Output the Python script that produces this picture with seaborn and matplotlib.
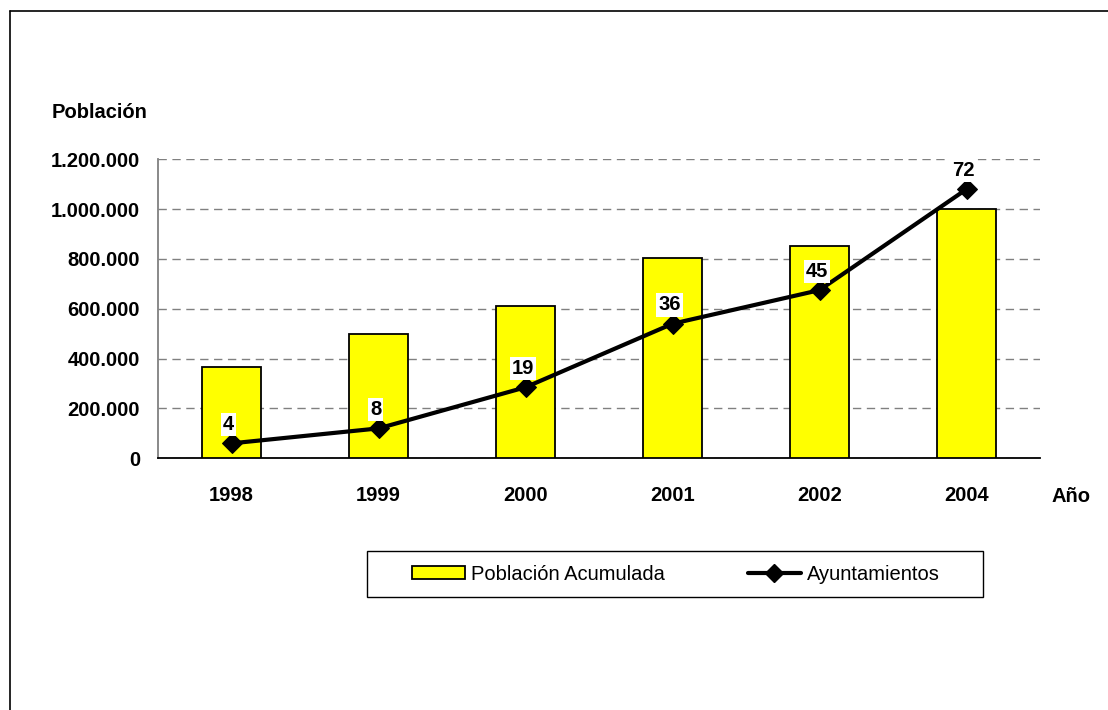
import matplotlib
matplotlib.use("Agg")
import matplotlib.pyplot as plt
import seaborn as sns
import pandas as pd
import numpy as np
from matplotlib.lines import Line2D
from matplotlib.patches import Patch, Rectangle
from matplotlib.ticker import FuncFormatter, FixedLocator

# ---- data ----
years = ["1998", "1999", "2000", "2001", "2002", "2004"]
poblacion = [365000, 498000, 612000, 805000, 851000, 1001000]
ayuntamientos = [4, 8, 19, 36, 45, 72]

sns.set_theme(style="white")
plt.rcParams["font.family"] = ["Liberation Sans", "DejaVu Sans"]
plt.rcParams["text.color"] = "black"
plt.rcParams["axes.labelcolor"] = "black"
plt.rcParams["xtick.color"] = "black"
plt.rcParams["ytick.color"] = "black"

W, H = 1108, 710
fig = plt.figure(figsize=(W / 100, H / 100), dpi=100)
fig.patch.set_facecolor("white")

left, right, top, bottom = 158, 1040, 159.3, 458.3
ax = fig.add_axes([left / W, 1 - bottom / H, (right - left) / W, (bottom - top) / H])

df = pd.DataFrame({"Año": years, "Población": poblacion, "Ayto": ayuntamientos})

sns.barplot(data=df, x="Año", y="Población", color="#FFFF00", width=0.405,
            edgecolor="black", linewidth=1.3, saturation=1, ax=ax, zorder=3)

ax.set_ylim(0, 1200000)
ax.set_xlim(-0.5, len(years) - 0.5)
ax.set_xlabel("")
ax.set_ylabel("")
ax.yaxis.set_major_locator(FixedLocator(np.arange(0, 1200001, 200000)))
ax.yaxis.set_major_formatter(FuncFormatter(lambda v, p: f"{int(v):,}".replace(",", ".")))
ax.grid(axis="y", color="#808080", linestyle=(0, (6, 4)), linewidth=1.0, zorder=0)
ax.set_axisbelow(True)

for s in ["top", "right"]:
    ax.spines[s].set_visible(False)
ax.spines["left"].set_color("#808080")
ax.spines["left"].set_linewidth(1.3)
ax.spines["bottom"].set_color("black")
ax.spines["bottom"].set_linewidth(1.3)

ax.tick_params(axis="y", length=0, pad=13, labelsize=14.5, labelcolor="black")
ax.tick_params(axis="x", which="major", length=0, pad=20, labelsize=14.5, labelcolor="black")
ax.set_xticks(np.arange(-0.5, len(years), 1.0), minor=True)
ax.tick_params(axis="x", which="minor", direction="inout", length=10, width=1.0, color="black")
for lbl in ax.get_yticklabels() + ax.get_xticklabels():
    lbl.set_fontweight("bold")

# secondary axis for the line
ax2 = ax.twinx()
ax2.set_ylim(0, 80)
ax2.set_axis_off()
xpos = np.arange(len(years))
sns.lineplot(x=xpos, y=ayuntamientos, ax=ax2, color="black", linewidth=3,
             marker="D", markersize=10, markeredgecolor="black", zorder=5, legend=False)
ax2.set_xlim(-0.5, len(years) - 0.5)
for xi, v in zip(xpos, ayuntamientos):
    ax2.annotate(str(v), (xi, v), xytext=(-2, 13.5), textcoords="offset points",
                 ha="center", va="center", fontsize=14.5, fontweight="bold", color="black",
                 bbox=dict(boxstyle="square,pad=0.1", facecolor="white", edgecolor="none"),
                 zorder=6)

# axis titles
fig.text(52 / W, 1 - 113 / H, "Población", fontsize=14.5, fontweight="bold",
         ha="left", va="center", color="black")
fig.text(1051 / W, 1 - 497 / H, "Año", fontsize=14.5, fontweight="bold",
         ha="left", va="center", color="black")

# legend (frame drawn separately)
handles = [Patch(facecolor="#FFFF00", edgecolor="black", linewidth=1.3),
           Line2D([0], [0], color="black", linewidth=3, marker="D", markersize=9)]
leg = fig.legend(handles, ["Población Acumulada", "Ayuntamientos"], ncol=2,
                 loc="center", bbox_to_anchor=(676 / W, 1 - 574 / H),
                 frameon=False, fontsize=14.5, handlelength=2.65,
                 handleheight=0.6, handletextpad=0.3, columnspacing=4.1,
                 borderpad=0, borderaxespad=0)
for t in leg.get_texts():
    t.set_color("black")
fig.add_artist(Rectangle((367 / W, 1 - 597 / H), (983 - 367) / W, (597 - 551) / H,
                         transform=fig.transFigure, facecolor="none",
                         edgecolor="black", linewidth=1.0, zorder=0))

# outer frame (top and left lines)
fig.add_artist(Line2D([9.5 / W, 1.0], [1 - 11 / H, 1 - 11 / H], color="black",
                      linewidth=1.2, transform=fig.transFigure))
fig.add_artist(Line2D([9.5 / W, 9.5 / W], [1 - 11 / H, 0.0], color="black",
                      linewidth=1.2, transform=fig.transFigure))

fig.savefig("out.png", dpi=100, facecolor="white")
